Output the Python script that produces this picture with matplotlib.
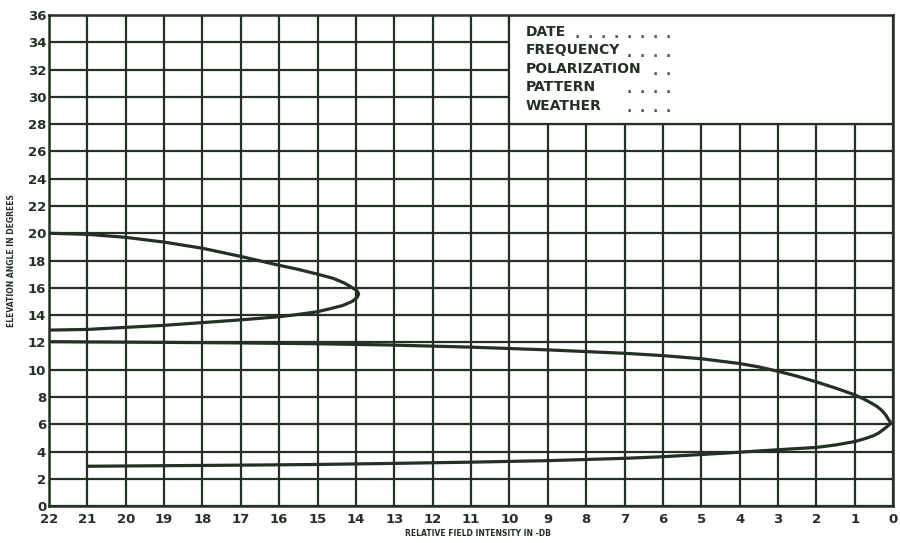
import matplotlib
matplotlib.use("Agg")
import matplotlib.pyplot as plt
from matplotlib.patches import Rectangle

# Relative field intensity (-dB) versus elevation angle (degrees)
main_lobe_db = [21, 19, 17, 15, 13, 11, 9, 7, 6, 5, 4, 3, 2, 1.5, 1, 0.75, 0.52, 0.38, 0.26,
                0.17, 0.1, 0.07, 0.08, 0.13, 0.2, 0.31, 0.43, 0.57, 0.78, 1, 1.5, 2, 2.5, 3,
                3.5, 4, 5, 6, 7, 9, 11, 13, 15, 17, 19, 22]
main_lobe_deg = [2.92, 2.96, 3.0, 3.05, 3.13, 3.22, 3.33, 3.5, 3.62, 3.78, 3.95, 4.13, 4.3,
                 4.48, 4.73, 4.93, 5.15, 5.35, 5.6, 5.8, 5.97, 6.1, 6.2, 6.38, 6.7, 7.05,
                 7.32, 7.55, 7.87, 8.15, 8.65, 9.1, 9.52, 9.88, 10.2, 10.45, 10.8, 11.03,
                 11.2, 11.45, 11.65, 11.8, 11.9, 11.96, 12.0, 12.05]

upper_lobe_db = [22, 21, 20, 19, 18, 17, 16, 15.5, 15, 14.7, 14.35, 14.1, 13.97, 13.93,
                 13.97, 14.1, 14.3, 14.6, 15, 15.5, 16, 17, 18, 19, 20, 21, 22]
upper_lobe_deg = [12.9, 12.95, 13.1, 13.25, 13.45, 13.65, 13.88, 14.05, 14.25, 14.45, 14.7,
                  15.0, 15.3, 15.55, 15.78, 16.02, 16.35, 16.7, 17.0, 17.35, 17.65, 18.3,
                  18.9, 19.35, 19.7, 19.92, 20.0]

x_ticks = list(range(22, -1, -1))
y_ticks = list(range(0, 37, 2))

info_labels = ["DATE", "FREQUENCY", "POLARIZATION", "PATTERN", "WEATHER"]
info_dots = [8, 4, 2, 4, 4]

ink = "#243024"

fig = plt.figure(figsize=(9, 5.43), dpi=100)
ax = fig.add_axes([0.0544, 0.068, 0.938, 0.9044])
ax.set_xlim(22, 0)
ax.set_ylim(0, 36)
ax.set_xticks(x_ticks)
ax.set_yticks(y_ticks)
ax.set_xticklabels([str(v) for v in x_ticks], fontsize=9.5, fontweight="bold", color=ink)
ax.set_yticklabels([str(v) for v in y_ticks], fontsize=9.5, fontweight="bold", color=ink)
ax.tick_params(axis="both", length=0)
ax.tick_params(axis="x", pad=5)
ax.tick_params(axis="y", pad=2)
ax.set_axisbelow(True)
ax.grid(True, color=ink, linewidth=1.6)
for s in ax.spines.values():
    s.set_color(ink)
    s.set_linewidth(1.8)

# Information block in the upper right corner
ax.add_patch(Rectangle((10, 28), -10, 8, facecolor="white", edgecolor=ink,
                       linewidth=1.6, zorder=1))
rows_y = [34.75, 33.4, 32.05, 30.7, 29.3]
dot_step = 0.34
last_dot_x = 5.85
for lab, nd, yy in zip(info_labels, info_dots, rows_y):
    ax.text(9.57, yy, lab, fontsize=10, fontweight="bold", color=ink,
            ha="left", va="center", zorder=3)
    for k in range(nd):
        ax.text(last_dot_x + (nd - 1 - k) * dot_step, yy - 0.15, ".", fontsize=10,
                fontweight="bold", color="#555555", ha="center", va="center", zorder=3)

ax.plot(main_lobe_db, main_lobe_deg, color=ink, linewidth=2.3, zorder=4,
        solid_capstyle="butt", solid_joinstyle="round")
ax.plot(upper_lobe_db, upper_lobe_deg, color=ink, linewidth=2.3, zorder=4,
        solid_capstyle="butt", solid_joinstyle="round")

fig.text(0.531, 0.009, "RELATIVE FIELD INTENSITY IN -DB", fontsize=5.5,
         fontweight="bold", color=ink, ha="center", va="bottom")
fig.text(0.013, 0.52, "ELEVATION ANGLE IN DEGREES", fontsize=5.5,
         fontweight="bold", color=ink, ha="center", va="center", rotation=90)

fig.savefig("out.png", dpi=100, facecolor="white")
